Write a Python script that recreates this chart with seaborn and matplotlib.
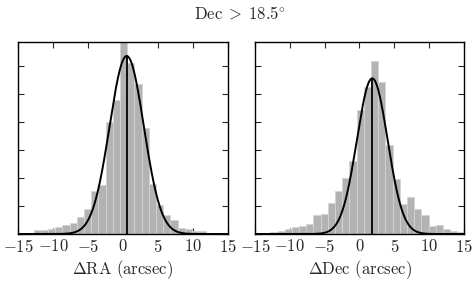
import numpy as np
import pandas as pd
import matplotlib
matplotlib.use("Agg")
import matplotlib.pyplot as plt
import seaborn as sns
from matplotlib.ticker import MultipleLocator

# histogram heights (in units of one y tick), bins of equal width
bin_width = 1.032
ra_bin_start = -12.81
ra_heights = [0.13, 0.13, 0.17, 0.25, 0.31, 0.38, 0.62, 0.88, 1.55, 1.75,
              3.99, 4.79, 7.0, 6.1, 5.35, 3.77, 1.78, 1.04, 0.68, 0.5,
              0.23, 0.18, 0.09, 0.1, 0.03, 0.02]
dec_bin_start = -14.86
dec_heights = [0.02, 0.03, 0.07, 0.1, 0.17, 0.24, 0.3, 0.36, 0.68, 0.71,
               1.12, 1.54, 2.01, 2.61, 4.43, 5.26, 6.18, 5.42, 3.18, 1.95,
               1.07, 1.31, 0.88, 0.68, 0.3, 0.32, 0.18, 0.12, 0.06]

# gaussian fits: amplitude, mean, sigma
ra_fit = (6.36, 0.53, 2.45)
dec_fit = (5.56, 1.83, 2.2)

xlabels = [r"$\Delta$RA (arcsec)", r"$\Delta$Dec (arcsec)"]
title = r"$\mathrm{Dec}\;>\;18.5^{\circ}$"

sns.set_style("ticks")
plt.rcParams["font.family"] = "serif"
plt.rcParams["font.serif"] = ["cmr10"]
plt.rcParams["mathtext.fontset"] = "cm"
plt.rcParams["axes.formatter.use_mathtext"] = True
plt.rcParams["font.size"] = 12

W, H = 477, 282
fig = plt.figure(figsize=(W / 100, H / 100), dpi=100)
ax_ra = fig.add_axes([18.3 / W, 48 / H, 209.4 / W, 192.3 / H])
ax_dec = fig.add_axes([255 / W, 48 / H, 209 / W, 192.3 / H])

panels = [
    (ax_ra, ra_bin_start, ra_heights, ra_fit, xlabels[0]),
    (ax_dec, dec_bin_start, dec_heights, dec_fit, xlabels[1]),
]

for ax, start, heights, fit, xlabel in panels:
    edges = start + bin_width * np.arange(len(heights) + 1)
    df = pd.DataFrame({"x": 0.5 * (edges[:-1] + edges[1:]), "h": heights})
    sns.histplot(data=df, x="x", weights="h", bins=edges.tolist(), ax=ax,
                 color="#b3b3b3", alpha=1, edgecolor="#d4d4d4", linewidth=0.6)

    amp, mu, sig = fit
    xs = np.linspace(-15, 15, 400)
    ys = amp * np.exp(-0.5 * ((xs - mu) / sig) ** 2)
    sns.lineplot(x=xs, y=ys, ax=ax, color="black", linewidth=1.4)
    ax.vlines(mu, 0, amp, color="black", linewidth=1.3)

    ax.set_xlim(-15, 15)
    ax.set_ylim(0, 6.87)
    ax.xaxis.set_major_locator(MultipleLocator(5))
    ax.yaxis.set_major_locator(MultipleLocator(1))
    ax.set_yticklabels([])
    ax.set_ylabel("")
    ax.set_xlabel(xlabel, fontsize=12, labelpad=2)
    ax.tick_params(direction="in", top=True, right=True, length=4,
                   width=0.8, labelsize=12, pad=3)
    for s in ax.spines.values():
        s.set_linewidth(1.0)
        s.set_color("black")

fig.text(240 / W, 1 - 13 / H, title, ha="center", va="center", fontsize=12)

fig.savefig("out.png", dpi=100)
